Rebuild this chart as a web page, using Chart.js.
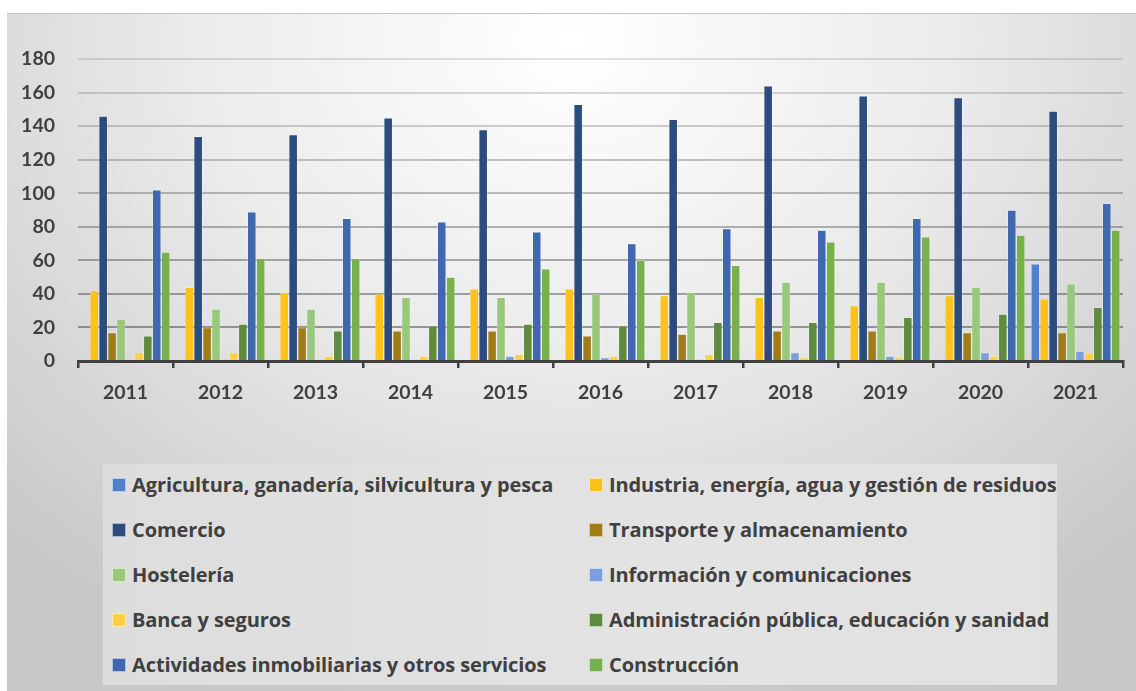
<!DOCTYPE html>
<html>
<head>
<meta charset="utf-8">
<script src="https://cdn.jsdelivr.net/npm/chart.js@4/dist/chart.umd.min.js"></script>
<style>
  html, body { margin: 0; padding: 0; background: #fff; }
  body { width: 1136px; height: 691px; position: relative; overflow: hidden; font-family: Lato, "Open Sans", sans-serif; }
  .panel {
    position: absolute; left: 7px; top: 13px; width: 1129px; height: 678px;
    background: radial-gradient(ellipse 72% 100% at 50% 4%, #ffffff 0%, #ececec 45%, #c8c8c8 100%);
    border-top: 1px solid #c4c4c4;
    box-sizing: border-box;
  }
  .chart-wrap { position: absolute; left: 0; top: 0; width: 1129px; height: 400px; }
  #legend {
    position: absolute; left: 96px; top: 450px; width: 954px; height: 221px;
    background: linear-gradient(90deg, #dddddd, #e3e3e3 60%, #e1e1e1);
  }
  .item { position: absolute; height: 45px; line-height: 45px; white-space: nowrap;
    font-family: "Open Sans", Lato, sans-serif;
    font-weight: 700; font-size: 20px; color: #404040; letter-spacing: -0.1px; }
  .item .sw { display: inline-block; width: 12px; height: 12px; margin-right: 6px;
    vertical-align: 0px; border: 0.5px solid rgba(255,255,255,0.6); }
</style>
</head>
<body>
<div class="panel">
  <div class="chart-wrap"><canvas id="chart" width="1129" height="400"></canvas></div>
  <div id="legend"></div>
</div>
<script>
const years = ['2011', '2012', '2013', '2014', '2015', '2016', '2017', '2018', '2019', '2020', '2021'];

const agricultura   = [0, 0, 0, 0, 0, 0, 0, 0, 0, 0, 58];
const industria     = [42, 44, 41, 40, 43, 43, 39, 38, 33, 39, 37];
const comercio      = [146, 134, 135, 145, 138, 153, 144, 164, 158, 157, 149];
const transporte    = [17, 20, 20, 18, 18, 15, 16, 18, 18, 17, 17];
const hosteleria    = [25, 31, 31, 38, 38, 40, 41, 47, 47, 44, 46];
const informacion   = [0, 1, 1, 1, 3, 2, 1, 5, 3, 5, 6];
const banca         = [5, 5, 3, 3, 4, 3, 4, 2, 2, 3, 5];
const administracion = [15, 22, 18, 21, 22, 21, 23, 23, 26, 28, 32];
const actividades   = [102, 89, 85, 83, 77, 70, 79, 78, 85, 90, 94];
const construccion  = [65, 61, 61, 50, 55, 60, 57, 71, 74, 75, 78];

const yTicks = [0, 20, 40, 60, 80, 100, 120, 140, 160, 180];

const series = [
  { label: 'Agricultura, ganadería, silvicultura y pesca', data: agricultura, color: '#4F80D0' },
  { label: 'Industria, energía, agua y gestión de residuos', data: industria, color: '#FFC21A' },
  { label: 'Comercio', data: comercio, color: '#2C4B7E' },
  { label: 'Transporte y almacenamiento', data: transporte, color: '#A07C17' },
  { label: 'Hostelería', data: hosteleria, color: '#98C97A' },
  { label: 'Información y comunicaciones', data: informacion, color: '#7A9FDC' },
  { label: 'Banca y seguros', data: banca, color: '#FFD043' },
  { label: 'Administración pública, educación y sanidad', data: administracion, color: '#5F8B3F' },
  { label: 'Actividades inmobiliarias y otros servicios', data: actividades, color: '#3F68AF' },
  { label: 'Construcción', data: construccion, color: '#76B14D' }
];

// grid lines get darker towards the bottom, like the original
function gridColor(ctx) {
  const v = ctx.tick ? ctx.tick.value : 0;
  if (v === 0) return 'rgba(0,0,0,0)';
  const a = 0.48 - (v / 180) * 0.34;
  return 'rgba(40,40,40,' + a.toFixed(3) + ')';
}

const chart = new Chart(document.getElementById('chart'), {
  type: 'bar',
  data: {
    labels: years,
    datasets: series.map(s => ({
      label: s.label,
      data: s.data,
      backgroundColor: s.color,
      borderColor: 'rgba(255,255,255,0.5)',
      borderWidth: 0.7,
      categoryPercentage: 0.94,
      barPercentage: 1.0
    }))
  },
  options: {
    responsive: false,
    animation: false,
    layout: { padding: { top: 45, right: 13, left: 0, bottom: 0 } },
    plugins: {
      legend: { display: false },
      tooltip: { enabled: false }
    },
    scales: {
      x: {
        grid: { display: true, drawOnChartArea: false, drawTicks: true, tickLength: 7, color: '#404040', lineWidth: 2.5, offset: true },
        border: { display: true, color: '#404040', width: 3 },
        ticks: { color: '#404040', font: { family: 'Lato', size: 19.5, weight: 'bold' }, padding: 13 },
        afterFit: scale => { scale.height = 53; }
      },
      y: {
        min: 0, max: 180,
        afterBuildTicks: scale => { scale.ticks = yTicks.map(v => ({ value: v })); },
        grid: { color: gridColor, lineWidth: 2, drawTicks: false },
        border: { display: false },
        ticks: { color: '#404040', font: { family: 'Lato', size: 19.5, weight: 'bold' }, padding: 23 },
        afterFit: scale => { scale.width = 71; }
      }
    }
  }
});

// legend in two fixed columns, built from the chart datasets
const legendEl = document.getElementById('legend');
chart.data.datasets.forEach((ds, i) => {
  const item = document.createElement('div');
  item.className = 'item';
  item.style.left = (i % 2 === 0 ? 9 : 486) + 'px';
  item.style.top = (Math.floor(i / 2) * 45 - 2) + 'px';
  const sw = document.createElement('span');
  sw.className = 'sw';
  sw.style.background = ds.backgroundColor;
  item.appendChild(sw);
  item.appendChild(document.createTextNode(ds.label));
  legendEl.appendChild(item);
});
</script>
</body>
</html>
